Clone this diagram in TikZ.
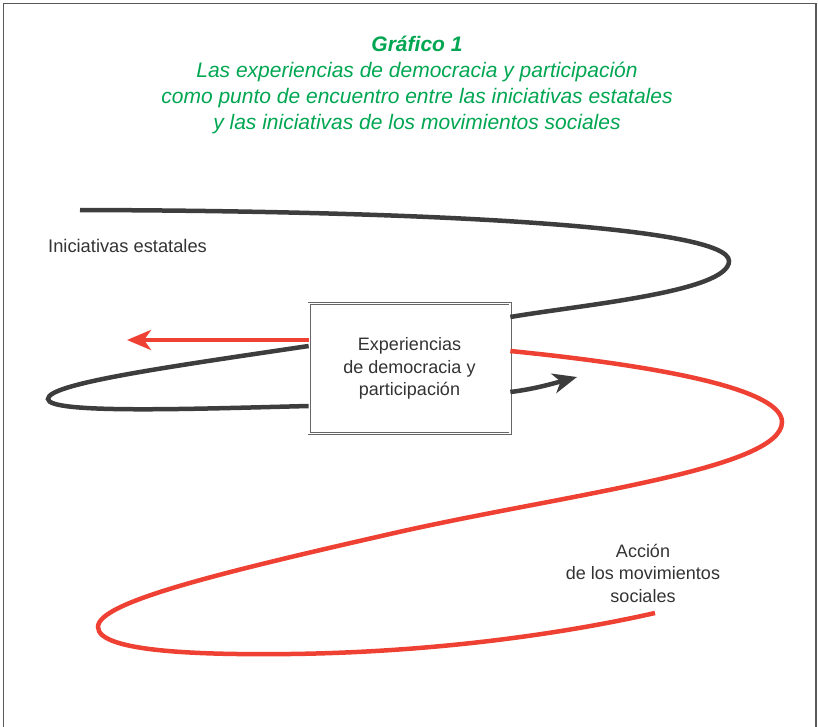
\documentclass[tikz,border=0pt]{standalone}
\usepackage{fontspec}
\setmainfont{Liberation Sans}
\usetikzlibrary{arrows.meta}
\definecolor{ttgreen}{HTML}{00A651}
\definecolor{ttred}{HTML}{EE4133}
\definecolor{ttdark}{HTML}{3D3D3D}
\definecolor{tttext}{HTML}{333333}
\tikzset{
  blackline/.style={draw=ttdark, line width=4.5pt},
  redline/.style={draw=ttred, line width=4.5pt},
  bigtip/.style={-{Stealth[length=24pt,width=20pt,inset=7pt]}},
  lbl/.style={text=tttext, font=\fontsize{18}{22.5}\selectfont, align=center, inner sep=0pt},
}
\begin{document}
\begin{tikzpicture}[x=1pt,y=-1pt]
\useasboundingbox (0,0) rectangle (818,727);
% frame
\draw[draw=black!65, line width=1.4pt] (3.5,727) -- (3.5,3.5) -- (816,3.5) -- (816,727);
% title
\node[text=ttgreen, align=center, inner sep=0pt, font=\fontsize{21}{26}\selectfont\itshape] (title) at (417,85)
 {{\bfseries Gráfico 1}\\Las experiencias de democracia y participación\\como punto de encuentro entre las iniciativas estatales\\y las iniciativas de los movimientos sociales};
% central box
\node[draw=black!60, double=white, double distance=1.6pt, line width=0.7pt, fill=white,
      minimum width=201pt, minimum height=130pt, lbl] (exp) at (409.5,368.5)
 {\raisebox{-3pt}{\begin{tabular}{@{}c@{}}Experiencias\\de democracia y\\participación\end{tabular}}};
% labels
\node[lbl, anchor=west, font=\fontsize{18.3}{22.5}\selectfont] (ie) at (48,246) {Iniciativas estatales};
\node[lbl] (ams) at (643,573) {Acción\\de los movimientos\\sociales};
% anchor coordinates on box border
\coordinate (bTopR) at (exp.east |- 0,317);
\coordinate (bLoopA) at (exp.west |- 0,346);
\coordinate (bLoopB) at (exp.west |- 0,406);
\coordinate (bArrR) at (exp.east |- 0,392);
\coordinate (rArrL) at (exp.west |- 0,340);
\coordinate (rStart) at (exp.east |- 0,351);
\coordinate (bStart) at (80,210);
\coordinate (bEnd) at (577,377);
\coordinate (rTip) at (127,340);
\coordinate (rEnd) at (655,613);
% black curve
\draw[blackline] (bStart) .. controls (450,211) and (729,228) .. (729,261)
  .. controls (729,292) and (580,305) .. (bTopR);
\draw[blackline] (bLoopA) .. controls (160,368) and (48,384) .. (48,399)
  .. controls (48,414) and (190,409) .. (bLoopB);
\draw[blackline, bigtip] (bArrR) .. controls (535,389) and (555,383) .. (bEnd);
% red curve
\draw[redline, bigtip] (rArrL) -- (rTip);
\draw[redline] (rStart) .. controls (680,368) and (782,392) .. (782,422)
  .. controls (782,470) and (560,495) .. (390,534)
  .. controls (210,575) and (98,603) .. (98,627)
  .. controls (98,652) and (200,655) .. (290,654)
  .. controls (450,652) and (580,630) .. (rEnd);
\end{tikzpicture}
\end{document}
